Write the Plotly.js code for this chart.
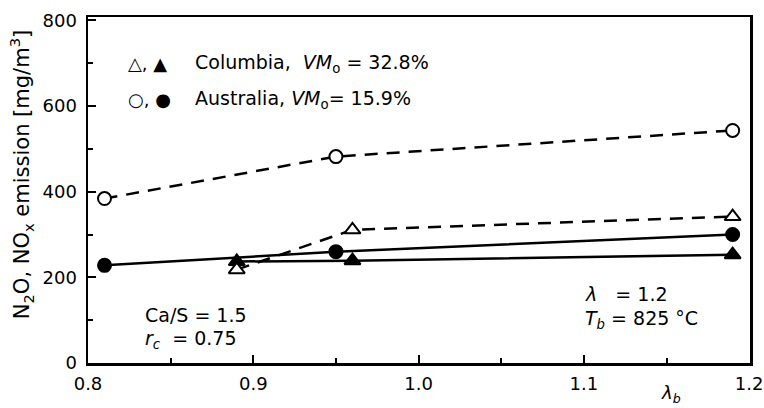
<!DOCTYPE html>
<html>
<head>
<meta charset="utf-8">
<script src="https://cdn.plot.ly/plotly-3.0.1.min.js"></script>
<style>html,body{margin:0;padding:0;background:#fff;}#chart{width:764px;height:408px;}</style>
</head>
<body>
<div id="chart"></div>
<script>
// λb values and emission [mg/m3]
const columbiaOpenX = [0.89, 0.96, 1.19];
const columbiaOpenY = [218, 311, 342];
const columbiaFilledX = [0.89, 0.96, 1.19];
const columbiaFilledY = [237, 239, 253];
const australiaOpenX = [0.81, 0.95, 1.19];
const australiaOpenY = [384, 482, 543];
const australiaFilledX = [0.81, 0.95, 1.19];
const australiaFilledY = [228, 260, 300];
const xTickVals = [0.8, 0.9, 1.0, 1.1, 1.2];
const xTickText = ["0.8", "0.9", "1.0", "1.1", "1.2"];
const yTickVals = [0, 200, 400, 600, 800];
const yTickText = ["0", "200", "400", "600", "800"];

const FONT = "DejaVu Sans, Liberation Sans, Arial, sans-serif";
const dashStyle = "13px,9px";

function trace(x, y, symbol, filled, dashed) {
  return {
    x: x, y: y, type: "scatter", mode: "lines+markers",
    line: {color: "#000", width: 2.5, dash: dashed ? dashStyle : "solid"},
    marker: {symbol: symbol, size: symbol.startsWith("triangle") ? 14 : 13,
             color: filled ? "#000" : "#fff",
             line: {color: "#000", width: 2}},
    showlegend: false, hoverinfo: "skip", cliponaxis: false
  };
}

const data = [
  trace(columbiaFilledX, columbiaFilledY, "triangle-up", true, false),
  trace(australiaFilledX, australiaFilledY, "circle", true, false),
  trace(columbiaOpenX, columbiaOpenY, "triangle-up", false, true),
  trace(australiaOpenX, australiaOpenY, "circle", false, true)
];

const ann = (x, y, text, opts) => Object.assign({
  x: x, y: y, xref: "paper", yref: "paper", text: text, showarrow: false,
  xanchor: "left", yanchor: "middle", font: {family: FONT, size: 19, color: "#000"}
}, opts || {});

const layout = {
  width: 764, height: 408,
  margin: {l: 88, r: 14, t: 17, b: 45},
  paper_bgcolor: "#fff", plot_bgcolor: "#fff",
  font: {family: FONT, size: 18, color: "#000"},
  xaxis: {
    range: [0.8, 1.2005], tickvals: xTickVals, ticktext: xTickText, automargin: false,
    ticks: "inside", ticklen: 8, tickwidth: 2, tickcolor: "#000", ticklabelstandoff: 3,
    showline: true, linewidth: 2.5, linecolor: "#000", mirror: true,
    showgrid: false, zeroline: false,
    tickfont: {family: FONT, size: 18, color: "#000"},
    minor: {dtick: 0.05, ticks: "inside", ticklen: 5, tickwidth: 2, tickcolor: "#000", showgrid: false}
  },
  yaxis: {
    range: [0, 808], tickvals: yTickVals, ticktext: yTickText, automargin: false,
    ticks: "inside", ticklen: 8, tickwidth: 2, tickcolor: "#000", ticklabelstandoff: 5,
    showline: true, linewidth: 2.5, linecolor: "#000", mirror: true,
    showgrid: false, zeroline: false,
    tickfont: {family: FONT, size: 18, color: "#000"},
    minor: {dtick: 100, ticks: "inside", ticklen: 5, tickwidth: 2, tickcolor: "#000", showgrid: false}
  },
  annotations: [
    ann(-0.1, 0.545, "N<sub>2</sub>O, NO<sub>x</sub> emission [mg/m<sup>3</sup>]",
        {xanchor: "center", textangle: -90, font: {family: FONT, size: 21, color: "#000"}}),
    ann(0.057, 0.866, "△, ▲", {font: {family: FONT, size: 18, color: "#000"}}),
    ann(0.158, 0.866, "Columbia,  <i>VM</i><sub>o</sub> = 32.8%"),
    ann(0.057, 0.762, "○, ●", {font: {family: FONT, size: 18, color: "#000"}}),
    ann(0.158, 0.762, "Australia, <i>VM</i><sub>o</sub>= 15.9%"),
    ann(0.083, 0.14, "Ca/S = 1.5"),
    ann(0.083, 0.068, "<i>r</i><sub><i>c</i></sub>  = 0.75"),
    ann(0.748, 0.2, "<i>λ</i>   = 1.2"),
    ann(0.748, 0.125, "<i>T</i><sub><i>b</i></sub> = 825 °C"),
    ann(0.88, -0.09, "<i>λ</i><sub><i>b</i></sub>", {xanchor: "center", font: {family: FONT, size: 18, color: "#000"}})
  ]
};

Plotly.newPlot("chart", data, layout, {displayModeBar: false, staticPlot: true});
</script>
</body>
</html>
